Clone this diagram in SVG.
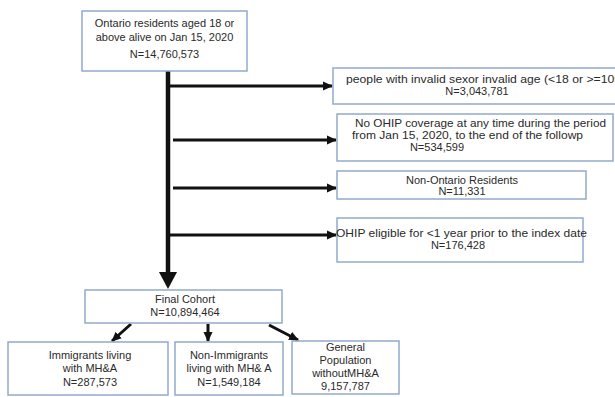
<svg xmlns="http://www.w3.org/2000/svg" width="615" height="397" viewBox="0 0 615 397">
<style>
.box{fill:#fff;stroke:#93aacb;stroke-width:1.5}
.t{font-family:"Liberation Sans",Arial,sans-serif;font-size:11px;fill:#2a2a2a}
.m{text-anchor:middle}
.c{stroke:#111;stroke-width:3;fill:none}
</style>
<defs>
<marker id="ah" markerUnits="userSpaceOnUse" markerWidth="10" markerHeight="10" viewBox="0 0 10 10" refX="9" refY="5" orient="auto">
<path d="M0,0.5 L10,5 L0,9.5 Z" fill="#111"/>
</marker>
</defs>
<rect width="615" height="397" fill="#fff"/>
<g id="connectors">
<line class="c" x1="168" y1="71" x2="168" y2="274" style="stroke-width:4.5"/>
<polygon points="159,272 177,272 168,289" fill="#111"/>
<line class="c" x1="168" y1="86" x2="332" y2="86" marker-end="url(#ah)"/>
<line class="c" x1="173" y1="140" x2="336" y2="140" marker-end="url(#ah)"/>
<line class="c" x1="173" y1="188" x2="336" y2="188" marker-end="url(#ah)"/>
<line class="c" x1="168" y1="235" x2="336" y2="235" marker-end="url(#ah)"/>
<line class="c" x1="131" y1="324" x2="112" y2="341" marker-end="url(#ah)"/>
<line class="c" x1="208" y1="324" x2="208" y2="341" marker-end="url(#ah)"/>
<line class="c" x1="269" y1="325" x2="298" y2="340" marker-end="url(#ah)"/>
</g>
<g id="n-start">
<rect class="box" x="82" y="11" width="165" height="60"/>
<text class="t m" x="164.5" y="27">Ontario residents aged 18 or</text>
<text class="t m" x="164.5" y="41">above alive on Jan 15, 2020</text>
<text class="t m" x="164.5" y="58">N=14,760,573</text>
</g>
<g id="n-invalid">
<rect class="box" x="333" y="68" width="290" height="36"/>
<text class="t" x="346" y="83" textLength="275" lengthAdjust="spacingAndGlyphs">people with invalid sexor invalid age (&lt;18 or &gt;=105</text>
<text class="t m" x="477" y="95">N=3,043,781</text>
</g>
<g id="n-noohip">
<rect class="box" x="337" y="114" width="276" height="47"/>
<text class="t" x="355" y="127" textLength="251" lengthAdjust="spacingAndGlyphs">No OHIP coverage at any time during the period</text>
<text class="t" x="352" y="139" textLength="231" lengthAdjust="spacingAndGlyphs">from Jan 15, 2020, to the end of the followp</text>
<text class="t m" x="437" y="151">N=534,599</text>
</g>
<g id="n-nonont">
<rect class="box" x="337" y="171" width="249" height="28"/>
<text class="t m" x="462" y="184">Non-Ontario Residents</text>
<text class="t m" x="462" y="195">N=11,331</text>
</g>
<g id="n-elig">
<rect class="box" x="337" y="218" width="246" height="44"/>
<text class="t" x="336" y="237" textLength="251" lengthAdjust="spacingAndGlyphs">OHIP eligible for &lt;1 year prior to the index date</text>
<text class="t m" x="458" y="249">N=176,428</text>
</g>
<g id="n-final">
<rect class="box" x="85" y="290" width="197" height="33"/>
<text class="t m" x="185" y="303">Final Cohort</text>
<text class="t m" x="185" y="316">N=10,894,464</text>
</g>
<g id="n-imm">
<rect class="box" x="8" y="342" width="160" height="53"/>
<text class="t m" x="90" y="359">Immigrants living</text>
<text class="t m" x="90" y="372">with MH&amp;A</text>
<text class="t m" x="90" y="386">N=287,573</text>
</g>
<g id="n-nonimm">
<rect class="box" x="175" y="342" width="108" height="53"/>
<text class="t m" x="229" y="359">Non-Immigrants</text>
<text class="t m" x="229" y="372">living with MH&amp; A</text>
<text class="t m" x="229" y="386">N=1,549,184</text>
</g>
<g id="n-gen">
<rect class="box" x="292" y="341" width="107" height="53"/>
<text class="t m" x="345.5" y="351">General</text>
<text class="t m" x="345.5" y="364">Population</text>
<text class="t m" x="345.5" y="377">withoutMH&amp;A</text>
<text class="t m" x="345.5" y="390">9,157,787</text>
</g>
</svg>
